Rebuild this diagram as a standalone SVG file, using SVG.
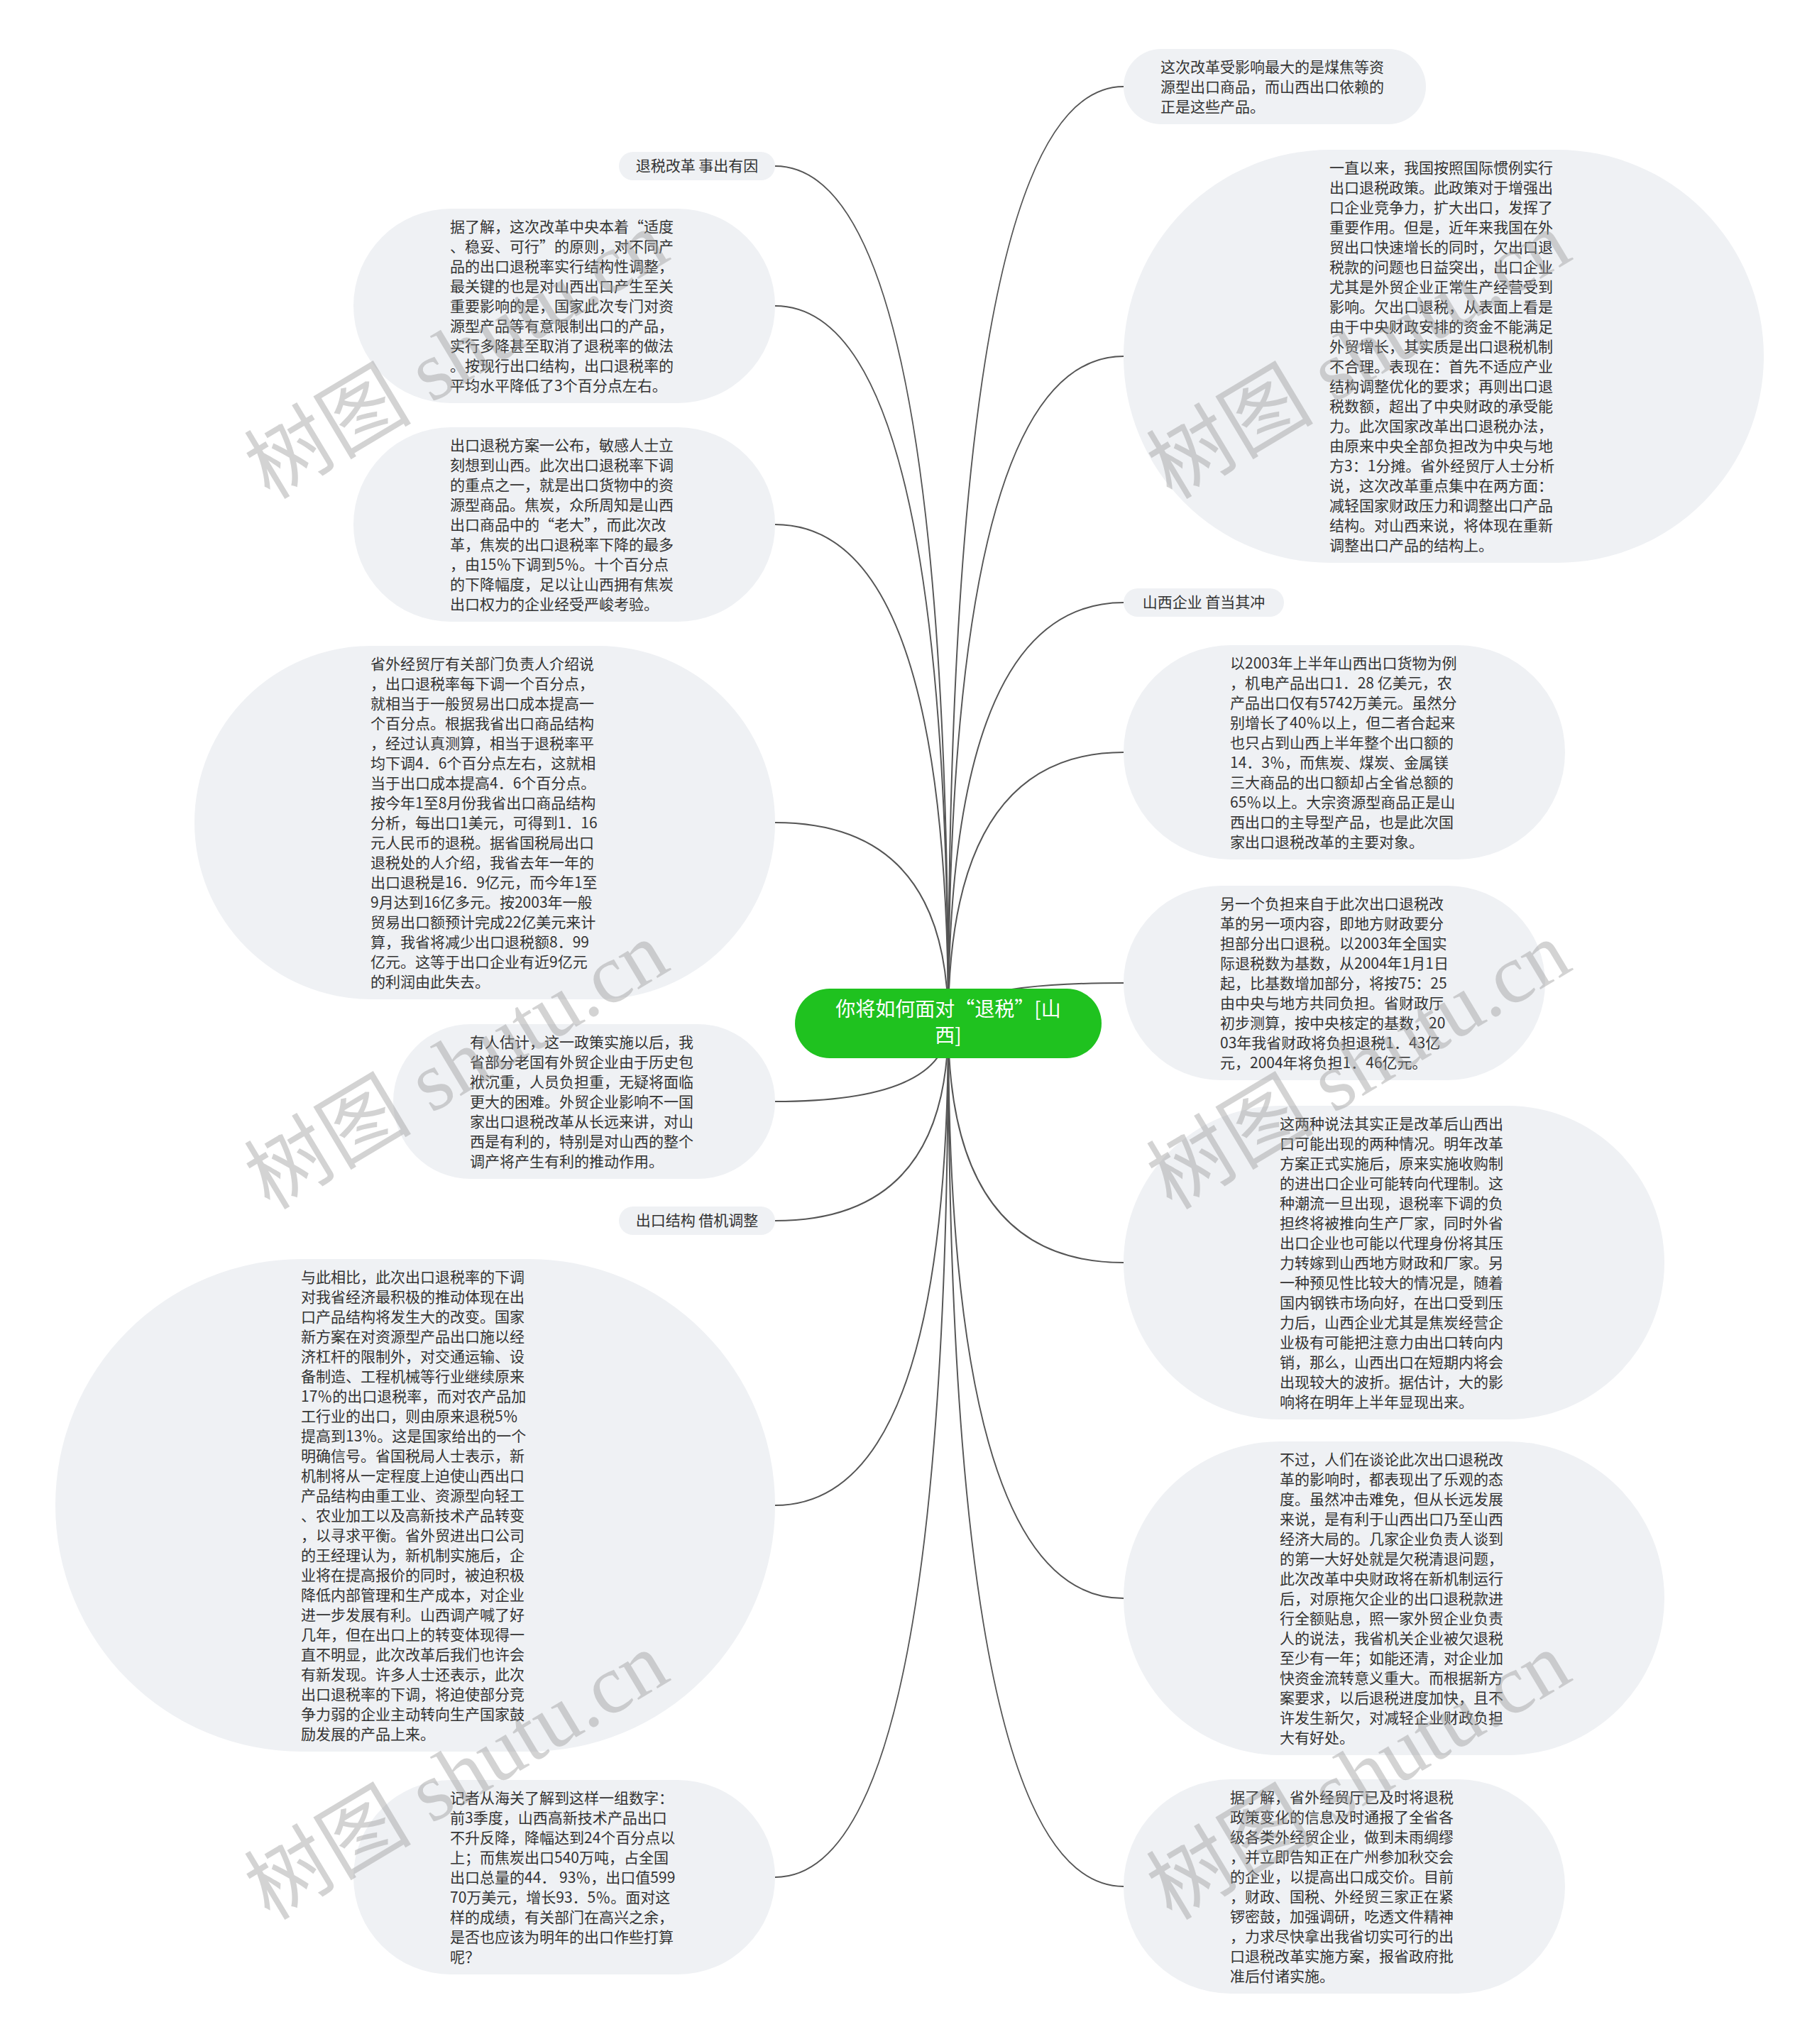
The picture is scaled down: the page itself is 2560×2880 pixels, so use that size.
<svg xmlns="http://www.w3.org/2000/svg" width="2560" height="2880" viewBox="0 0 2560 2880">
<style>
.conn{fill:none;stroke:#555;stroke-width:2}
.bub{fill:#eff1f4}
.t{font-family:"Noto Sans CJK SC","Noto Sans",sans-serif;font-size:21px;fill:#333}
.lbl{font-family:"Noto Sans CJK SC","Noto Sans",sans-serif;font-size:21px;fill:#333;text-anchor:middle}
.root{fill:#1fc21f}
.rt{font-family:"Noto Sans CJK SC","Noto Sans",sans-serif;font-size:28px;fill:#fff;text-anchor:middle}
.wm{font-family:"Liberation Serif","Noto Sans CJK SC",serif;font-size:118px;fill:#999;opacity:.42}
</style>
<rect width="2560" height="2880" fill="#fff"/>
<g id="connectors">
<path class="conn" d="M1336 1442 Q1336 234 1092 234"/>
<path class="conn" d="M1336 1442 Q1336 431 1092 431"/>
<path class="conn" d="M1336 1442 Q1336 739 1092 739"/>
<path class="conn" d="M1336 1442 Q1336 1159 1092 1159"/>
<path class="conn" d="M1336 1442 Q1336 1552 1092 1552"/>
<path class="conn" d="M1336 1442 Q1336 1720 1092 1720"/>
<path class="conn" d="M1336 1442 Q1336 2121 1092 2121"/>
<path class="conn" d="M1336 1442 Q1336 2645 1092 2645"/>
<path class="conn" d="M1336 1442 Q1336 122 1583 122"/>
<path class="conn" d="M1336 1442 Q1336 502 1583 502"/>
<path class="conn" d="M1336 1442 Q1336 849 1583 849"/>
<path class="conn" d="M1336 1442 Q1336 1060 1583 1060"/>
<path class="conn" d="M1336 1442 Q1336 1385 1583 1385"/>
<path class="conn" d="M1336 1442 Q1336 1779 1583 1779"/>
<path class="conn" d="M1336 1442 Q1336 2252 1583 2252"/>
<path class="conn" d="M1336 1442 Q1336 2658 1583 2658"/>
</g>
<g id="root">
<rect class="root" x="1120" y="1393" width="432" height="98" rx="49"/>
<text class="rt" x="1336" y="1432">你将如何面对“退税”[山</text>
<text class="rt" x="1336" y="1469">西]</text>
</g>
<g id="L1">
<rect class="bub" x="872" y="214" width="220" height="40" rx="20"/>
<text class="lbl" x="982" y="241">退税改革 事出有因</text>
</g>
<g id="L2">
<rect class="bub" x="498" y="294" width="594" height="274" rx="137"/>
<text class="t" x="634" y="327"><tspan x="634">据了解，这次改革中央本着“适度</tspan><tspan x="634" dy="28">、稳妥、可行”的原则，对不同产</tspan><tspan x="634" dy="28">品的出口退税率实行结构性调整，</tspan><tspan x="634" dy="28">最关键的也是对山西出口产生至关</tspan><tspan x="634" dy="28">重要影响的是，国家此次专门对资</tspan><tspan x="634" dy="28">源型产品等有意限制出口的产品，</tspan><tspan x="634" dy="28">实行多降甚至取消了退税率的做法</tspan><tspan x="634" dy="28">。按现行出口结构，出口退税率的</tspan><tspan x="634" dy="28">平均水平降低了3个百分点左右。</tspan></text>
</g>
<g id="L3">
<rect class="bub" x="498" y="602" width="594" height="274" rx="137"/>
<text class="t" x="634" y="635"><tspan x="634">出口退税方案一公布，敏感人士立</tspan><tspan x="634" dy="28">刻想到山西。此次出口退税率下调</tspan><tspan x="634" dy="28">的重点之一，就是出口货物中的资</tspan><tspan x="634" dy="28">源型商品。焦炭，众所周知是山西</tspan><tspan x="634" dy="28">出口商品中的“老大”，而此次改</tspan><tspan x="634" dy="28">革，焦炭的出口退税率下降的最多</tspan><tspan x="634" dy="28">，由15％下调到5％。十个百分点</tspan><tspan x="634" dy="28">的下降幅度，足以让山西拥有焦炭</tspan><tspan x="634" dy="28">出口权力的企业经受严峻考验。</tspan></text>
</g>
<g id="L4">
<rect class="bub" x="274" y="910" width="818" height="498" rx="249"/>
<text class="t" x="522" y="943"><tspan x="522">省外经贸厅有关部门负责人介绍说</tspan><tspan x="522" dy="28">，出口退税率每下调一个百分点，</tspan><tspan x="522" dy="28">就相当于一般贸易出口成本提高一</tspan><tspan x="522" dy="28">个百分点。根据我省出口商品结构</tspan><tspan x="522" dy="28">，经过认真测算，相当于退税率平</tspan><tspan x="522" dy="28">均下调4．6个百分点左右，这就相</tspan><tspan x="522" dy="28">当于出口成本提高4．6个百分点。</tspan><tspan x="522" dy="28">按今年1至8月份我省出口商品结构</tspan><tspan x="522" dy="28">分析，每出口1美元，可得到1．16</tspan><tspan x="522" dy="28">元人民币的退税。据省国税局出口</tspan><tspan x="522" dy="28">退税处的人介绍，我省去年一年的</tspan><tspan x="522" dy="28">出口退税是16．9亿元，而今年1至</tspan><tspan x="522" dy="28">9月达到16亿多元。按2003年一般</tspan><tspan x="522" dy="28">贸易出口额预计完成22亿美元来计</tspan><tspan x="522" dy="28">算，我省将减少出口退税额8．99</tspan><tspan x="522" dy="28">亿元。这等于出口企业有近9亿元</tspan><tspan x="522" dy="28">的利润由此失去。</tspan></text>
</g>
<g id="L5">
<rect class="bub" x="554" y="1443" width="538" height="218" rx="109"/>
<text class="t" x="662" y="1476"><tspan x="662">有人估计，这一政策实施以后，我</tspan><tspan x="662" dy="28">省部分老国有外贸企业由于历史包</tspan><tspan x="662" dy="28">袱沉重，人员负担重，无疑将面临</tspan><tspan x="662" dy="28">更大的困难。外贸企业影响不一国</tspan><tspan x="662" dy="28">家出口退税改革从长远来讲，对山</tspan><tspan x="662" dy="28">西是有利的，特别是对山西的整个</tspan><tspan x="662" dy="28">调产将产生有利的推动作用。</tspan></text>
</g>
<g id="L6">
<rect class="bub" x="872" y="1700" width="220" height="40" rx="20"/>
<text class="lbl" x="982" y="1727">出口结构 借机调整</text>
</g>
<g id="L7">
<rect class="bub" x="78" y="1774" width="1014" height="694" rx="347"/>
<text class="t" x="424" y="1807"><tspan x="424">与此相比，此次出口退税率的下调</tspan><tspan x="424" dy="28">对我省经济最积极的推动体现在出</tspan><tspan x="424" dy="28">口产品结构将发生大的改变。国家</tspan><tspan x="424" dy="28">新方案在对资源型产品出口施以经</tspan><tspan x="424" dy="28">济杠杆的限制外，对交通运输、设</tspan><tspan x="424" dy="28">备制造、工程机械等行业继续原来</tspan><tspan x="424" dy="28">17％的出口退税率，而对农产品加</tspan><tspan x="424" dy="28">工行业的出口，则由原来退税5％</tspan><tspan x="424" dy="28">提高到13％。这是国家给出的一个</tspan><tspan x="424" dy="28">明确信号。省国税局人士表示，新</tspan><tspan x="424" dy="28">机制将从一定程度上迫使山西出口</tspan><tspan x="424" dy="28">产品结构由重工业、资源型向轻工</tspan><tspan x="424" dy="28">、农业加工以及高新技术产品转变</tspan><tspan x="424" dy="28">，以寻求平衡。省外贸进出口公司</tspan><tspan x="424" dy="28">的王经理认为，新机制实施后，企</tspan><tspan x="424" dy="28">业将在提高报价的同时，被迫积极</tspan><tspan x="424" dy="28">降低内部管理和生产成本，对企业</tspan><tspan x="424" dy="28">进一步发展有利。山西调产喊了好</tspan><tspan x="424" dy="28">几年，但在出口上的转变体现得一</tspan><tspan x="424" dy="28">直不明显，此次改革后我们也许会</tspan><tspan x="424" dy="28">有新发现。许多人士还表示，此次</tspan><tspan x="424" dy="28">出口退税率的下调，将迫使部分竞</tspan><tspan x="424" dy="28">争力弱的企业主动转向生产国家鼓</tspan><tspan x="424" dy="28">励发展的产品上来。</tspan></text>
</g>
<g id="L8">
<rect class="bub" x="498" y="2508" width="594" height="274" rx="137"/>
<text class="t" x="634" y="2541"><tspan x="634">记者从海关了解到这样一组数字：</tspan><tspan x="634" dy="28">前3季度，山西高新技术产品出口</tspan><tspan x="634" dy="28">不升反降，降幅达到24个百分点以</tspan><tspan x="634" dy="28">上；而焦炭出口540万吨，占全国</tspan><tspan x="634" dy="28">出口总量的44． 93％，出口值599</tspan><tspan x="634" dy="28">70万美元，增长93．5％。面对这</tspan><tspan x="634" dy="28">样的成绩，有关部门在高兴之余，</tspan><tspan x="634" dy="28">是否也应该为明年的出口作些打算</tspan><tspan x="634" dy="28">呢？</tspan></text>
</g>
<g id="R1">
<rect class="bub" x="1583" y="69" width="426" height="106" rx="53"/>
<text class="t" x="1635" y="102"><tspan x="1635">这次改革受影响最大的是煤焦等资</tspan><tspan x="1635" dy="28">源型出口商品，而山西出口依赖的</tspan><tspan x="1635" dy="28">正是这些产品。</tspan></text>
</g>
<g id="R2">
<rect class="bub" x="1583" y="211" width="902" height="582" rx="291"/>
<text class="t" x="1873" y="244"><tspan x="1873">一直以来，我国按照国际惯例实行</tspan><tspan x="1873" dy="28">出口退税政策。此政策对于增强出</tspan><tspan x="1873" dy="28">口企业竞争力，扩大出口，发挥了</tspan><tspan x="1873" dy="28">重要作用。但是，近年来我国在外</tspan><tspan x="1873" dy="28">贸出口快速增长的同时，欠出口退</tspan><tspan x="1873" dy="28">税款的问题也日益突出，出口企业</tspan><tspan x="1873" dy="28">尤其是外贸企业正常生产经营受到</tspan><tspan x="1873" dy="28">影响。欠出口退税，从表面上看是</tspan><tspan x="1873" dy="28">由于中央财政安排的资金不能满足</tspan><tspan x="1873" dy="28">外贸增长，其实质是出口退税机制</tspan><tspan x="1873" dy="28">不合理。表现在：首先不适应产业</tspan><tspan x="1873" dy="28">结构调整优化的要求；再则出口退</tspan><tspan x="1873" dy="28">税数额，超出了中央财政的承受能</tspan><tspan x="1873" dy="28">力。此次国家改革出口退税办法，</tspan><tspan x="1873" dy="28">由原来中央全部负担改为中央与地</tspan><tspan x="1873" dy="28">方3：1分摊。省外经贸厅人士分析</tspan><tspan x="1873" dy="28">说，这次改革重点集中在两方面：</tspan><tspan x="1873" dy="28">减轻国家财政压力和调整出口产品</tspan><tspan x="1873" dy="28">结构。对山西来说，将体现在重新</tspan><tspan x="1873" dy="28">调整出口产品的结构上。</tspan></text>
</g>
<g id="R3">
<rect class="bub" x="1583" y="829" width="226" height="40" rx="20"/>
<text class="lbl" x="1696" y="856">山西企业 首当其冲</text>
</g>
<g id="R4">
<rect class="bub" x="1583" y="909" width="622" height="302" rx="151"/>
<text class="t" x="1733" y="942"><tspan x="1733">以2003年上半年山西出口货物为例</tspan><tspan x="1733" dy="28">，机电产品出口1．28 亿美元，农</tspan><tspan x="1733" dy="28">产品出口仅有5742万美元。虽然分</tspan><tspan x="1733" dy="28">别增长了40％以上，但二者合起来</tspan><tspan x="1733" dy="28">也只占到山西上半年整个出口额的</tspan><tspan x="1733" dy="28">14．3％，而焦炭、煤炭、金属镁</tspan><tspan x="1733" dy="28">三大商品的出口额却占全省总额的</tspan><tspan x="1733" dy="28">65％以上。大宗资源型商品正是山</tspan><tspan x="1733" dy="28">西出口的主导型产品，也是此次国</tspan><tspan x="1733" dy="28">家出口退税改革的主要对象。</tspan></text>
</g>
<g id="R5">
<rect class="bub" x="1583" y="1248" width="594" height="274" rx="137"/>
<text class="t" x="1719" y="1281"><tspan x="1719">另一个负担来自于此次出口退税改</tspan><tspan x="1719" dy="28">革的另一项内容，即地方财政要分</tspan><tspan x="1719" dy="28">担部分出口退税。以2003年全国实</tspan><tspan x="1719" dy="28">际退税数为基数，从2004年1月1日</tspan><tspan x="1719" dy="28">起，比基数增加部分，将按75：25</tspan><tspan x="1719" dy="28">由中央与地方共同负担。省财政厅</tspan><tspan x="1719" dy="28">初步测算，按中央核定的基数，20</tspan><tspan x="1719" dy="28">03年我省财政将负担退税1．43亿</tspan><tspan x="1719" dy="28">元，2004年将负担1．46亿元。</tspan></text>
</g>
<g id="R6">
<rect class="bub" x="1583" y="1558" width="762" height="442" rx="221"/>
<text class="t" x="1803" y="1591"><tspan x="1803">这两种说法其实正是改革后山西出</tspan><tspan x="1803" dy="28">口可能出现的两种情况。明年改革</tspan><tspan x="1803" dy="28">方案正式实施后，原来实施收购制</tspan><tspan x="1803" dy="28">的进出口企业可能转向代理制。这</tspan><tspan x="1803" dy="28">种潮流一旦出现，退税率下调的负</tspan><tspan x="1803" dy="28">担终将被推向生产厂家，同时外省</tspan><tspan x="1803" dy="28">出口企业也可能以代理身份将其压</tspan><tspan x="1803" dy="28">力转嫁到山西地方财政和厂家。另</tspan><tspan x="1803" dy="28">一种预见性比较大的情况是，随着</tspan><tspan x="1803" dy="28">国内钢铁市场向好，在出口受到压</tspan><tspan x="1803" dy="28">力后，山西企业尤其是焦炭经营企</tspan><tspan x="1803" dy="28">业极有可能把注意力由出口转向内</tspan><tspan x="1803" dy="28">销，那么，山西出口在短期内将会</tspan><tspan x="1803" dy="28">出现较大的波折。据估计，大的影</tspan><tspan x="1803" dy="28">响将在明年上半年显现出来。</tspan></text>
</g>
<g id="R7">
<rect class="bub" x="1583" y="2031" width="762" height="442" rx="221"/>
<text class="t" x="1803" y="2064"><tspan x="1803">不过，人们在谈论此次出口退税改</tspan><tspan x="1803" dy="28">革的影响时，都表现出了乐观的态</tspan><tspan x="1803" dy="28">度。虽然冲击难免，但从长远发展</tspan><tspan x="1803" dy="28">来说，是有利于山西出口乃至山西</tspan><tspan x="1803" dy="28">经济大局的。几家企业负责人谈到</tspan><tspan x="1803" dy="28">的第一大好处就是欠税清退问题，</tspan><tspan x="1803" dy="28">此次改革中央财政将在新机制运行</tspan><tspan x="1803" dy="28">后，对原拖欠企业的出口退税款进</tspan><tspan x="1803" dy="28">行全额贴息，照一家外贸企业负责</tspan><tspan x="1803" dy="28">人的说法，我省机关企业被欠退税</tspan><tspan x="1803" dy="28">至少有一年；如能还清，对企业加</tspan><tspan x="1803" dy="28">快资金流转意义重大。而根据新方</tspan><tspan x="1803" dy="28">案要求，以后退税进度加快，且不</tspan><tspan x="1803" dy="28">许发生新欠，对减轻企业财政负担</tspan><tspan x="1803" dy="28">大有好处。</tspan></text>
</g>
<g id="R8">
<rect class="bub" x="1583" y="2507" width="622" height="302" rx="151"/>
<text class="t" x="1733" y="2540"><tspan x="1733">据了解，省外经贸厅已及时将退税</tspan><tspan x="1733" dy="28">政策变化的信息及时通报了全省各</tspan><tspan x="1733" dy="28">级各类外经贸企业，做到未雨绸缪</tspan><tspan x="1733" dy="28">，并立即告知正在广州参加秋交会</tspan><tspan x="1733" dy="28">的企业，以提高出口成交价。目前</tspan><tspan x="1733" dy="28">，财政、国税、外经贸三家正在紧</tspan><tspan x="1733" dy="28">锣密鼓，加强调研，吃透文件精神</tspan><tspan x="1733" dy="28">，力求尽快拿出我省切实可行的出</tspan><tspan x="1733" dy="28">口退税改革实施方案，报省政府批</tspan><tspan x="1733" dy="28">准后付诸实施。</tspan></text>
</g>
<g id="watermarks">
<text class="wm" transform="translate(380 705) rotate(-31)">树图 shutu.cn</text>
<text class="wm" transform="translate(380 1706) rotate(-31)">树图 shutu.cn</text>
<text class="wm" transform="translate(380 2707) rotate(-31)">树图 shutu.cn</text>
<text class="wm" transform="translate(1651 705) rotate(-31)">树图 shutu.cn</text>
<text class="wm" transform="translate(1651 1706) rotate(-31)">树图 shutu.cn</text>
<text class="wm" transform="translate(1651 2707) rotate(-31)">树图 shutu.cn</text>
</g>
</svg>
